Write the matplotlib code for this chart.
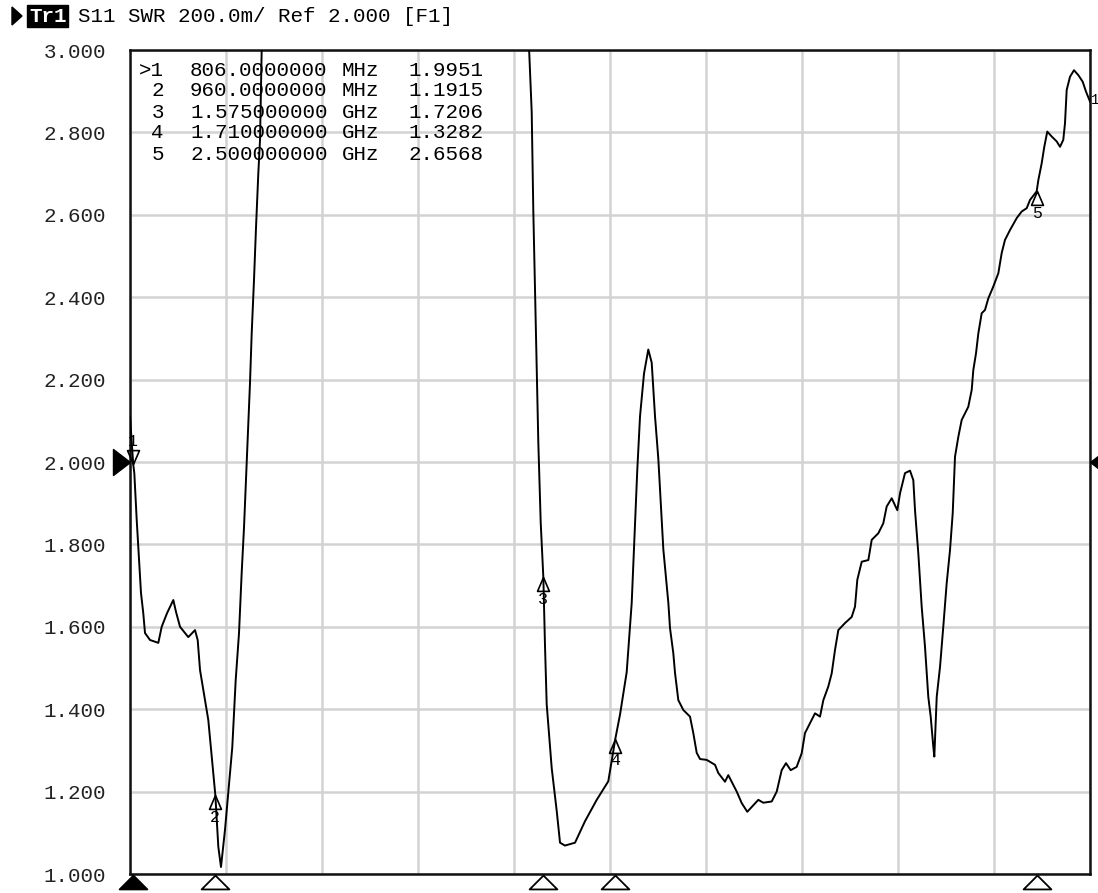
import matplotlib
matplotlib.use("Agg")
import matplotlib.pyplot as plt
from matplotlib.transforms import Affine2D, blended_transform_factory, ScaledTranslation
from matplotlib.patches import Polygon
import numpy as np

# ---------------- data ----------------
f_start, f_stop = 800.0, 2600.0          # MHz
swr_min, swr_max = 1.0, 3.0
ref_value = 2.0

freq_mhz = [
    800.0, 803.2, 806.0, 808.1, 812.6, 816.9, 820.6, 824.9, 828.1, 837.5,
    853.1, 859.4, 869.4, 881.2, 886.3, 893.8, 909.3, 921.9, 926.9, 931.3,
    940.6, 946.8, 954.3, 960.0, 965.6, 970.6, 978.1, 984.3, 991.8, 998.2,
    1004.4, 1009.4, 1013.8, 1016.9, 1020.7, 1025.0, 1028.2, 1032.5, 1036.3, 1040.6,
    1043.8, 1046.9, 1055.0, 1080.0, 1150.0, 1300.0, 1450.0, 1520.0, 1540.0, 1548.7,
    1553.2, 1556.2, 1559.4, 1562.6, 1565.6, 1570.1, 1575.0, 1578.1, 1581.3, 1590.7,
    1600.1, 1606.3, 1615.6, 1634.4, 1653.1, 1675.1, 1696.8, 1710.0, 1718.8, 1731.3,
    1740.7, 1746.9, 1751.2, 1756.3, 1763.8, 1771.8, 1778.2, 1784.4, 1790.6, 1800.0,
    1809.4, 1812.5, 1818.7, 1821.9, 1828.1, 1837.5, 1850.0, 1856.2, 1862.6, 1868.8,
    1881.3, 1896.9, 1903.1, 1915.6, 1921.8, 1928.2, 1937.6, 1947.0, 1957.4, 1968.7,
    1978.1, 1987.4, 2003.2, 2012.6, 2021.9, 2030.0, 2038.8, 2050.0, 2059.4, 2065.6,
    2075.0, 2084.4, 2093.8, 2100.0, 2109.3, 2115.7, 2121.9, 2128.1, 2140.6, 2153.2,
    2159.4, 2163.7, 2172.0, 2184.4, 2190.7, 2203.1, 2212.4, 2218.8, 2228.2, 2238.7,
    2243.8, 2253.1, 2262.5, 2268.7, 2271.9, 2278.1, 2284.4, 2290.6, 2296.8, 2301.3,
    2306.2, 2308.1, 2312.6, 2318.8, 2324.9, 2331.3, 2337.5, 2342.6, 2346.9, 2353.1,
    2359.4, 2371.8, 2378.2, 2381.2, 2386.3, 2390.6, 2396.9, 2403.1, 2409.3, 2418.7,
    2428.1, 2434.4, 2440.6, 2450.0, 2462.6, 2471.9, 2481.3, 2487.5, 2500.0, 2503.1,
    2509.4, 2514.3, 2519.9, 2528.2, 2537.6, 2543.8, 2549.9, 2553.1, 2556.3, 2562.5,
    2570.0, 2578.1, 2586.3, 2592.5, 2600.0,
]
swr = [
    2.11, 2.05, 1.9951, 1.973, 1.859, 1.762, 1.682, 1.633, 1.585, 1.568,
    1.561, 1.600, 1.633, 1.665, 1.636, 1.600, 1.575, 1.592, 1.568, 1.495,
    1.422, 1.374, 1.269, 1.1915, 1.066, 1.017, 1.107, 1.197, 1.308, 1.471,
    1.585, 1.731, 1.842, 1.939, 2.061, 2.192, 2.313, 2.442, 2.570, 2.701,
    2.782, 3.0, 3.3, 3.9, 4.6, 5.0, 4.4, 3.6, 3.2, 2.99,
    2.849, 2.61, 2.422, 2.241, 2.047, 1.852, 1.7206, 1.555, 1.412, 1.257,
    1.153, 1.076, 1.069, 1.076, 1.128, 1.18, 1.225, 1.3282, 1.387, 1.49,
    1.658, 1.852, 1.982, 2.111, 2.215, 2.273, 2.241, 2.111, 2.008, 1.788,
    1.658, 1.597, 1.536, 1.488, 1.422, 1.398, 1.382, 1.342, 1.294, 1.279,
    1.277, 1.265, 1.245, 1.224, 1.24, 1.224, 1.2, 1.172, 1.151, 1.167,
    1.18, 1.173, 1.176, 1.2, 1.252, 1.269, 1.252, 1.26, 1.293, 1.342,
    1.366, 1.39, 1.382, 1.422, 1.455, 1.487, 1.544, 1.592, 1.609, 1.624,
    1.649, 1.714, 1.758, 1.762, 1.811, 1.827, 1.851, 1.892, 1.912, 1.883,
    1.924, 1.973, 1.979, 1.956, 1.883, 1.778, 1.649, 1.552, 1.43, 1.382,
    1.309, 1.285, 1.43, 1.503, 1.6, 1.706, 1.786, 1.876, 2.013, 2.061,
    2.102, 2.134, 2.175, 2.223, 2.264, 2.312, 2.361, 2.369, 2.397, 2.426,
    2.458, 2.507, 2.539, 2.563, 2.592, 2.608, 2.616, 2.636, 2.6568, 2.684,
    2.725, 2.765, 2.802, 2.79, 2.778, 2.765, 2.782, 2.822, 2.903, 2.935,
    2.951, 2.939, 2.923, 2.899, 2.875,
]

marker_ids = ["1", "2", "3", "4", "5"]
marker_freq_mhz = [806.0, 960.0, 1575.0, 1710.0, 2500.0]
marker_swr = [1.9951, 1.1915, 1.7206, 1.3282, 2.6568]
marker_freq_text = ["806.0000000", "960.0000000", "1.575000000", "1.710000000", "2.500000000"]
marker_unit = ["MHz", "MHz", "GHz", "GHz", "GHz"]
marker_value_text = ["1.9951", "1.1915", "1.7206", "1.3282", "2.6568"]
active_marker = 0

ytick_values = [1.0, 1.2, 1.4, 1.6, 1.8, 2.0, 2.2, 2.4, 2.6, 2.8, 3.0]
ytick_labels = ["1.000", "1.200", "1.400", "1.600", "1.800", "2.000",
                "2.200", "2.400", "2.600", "2.800", "3.000"]
trace_tag = "Tr1"
trace_number = "1"
title_text = "S11 SWR 200.0m/ Ref 2.000 [F1]"

# ---------------- figure ----------------
W, H = 1098, 893
fig = plt.figure(figsize=(W / 100, H / 100), dpi=100)
px = Affine2D().scale(1, -1).translate(0, H)   # pixel coords, origin top-left
FONT = ["Liberation Mono", "DejaVu Sans Mono"]

L, R, T, B = 130, 1090, 50, 874
ax = fig.add_axes([L / W, 1 - B / H, (R - L) / W, (B - T) / H])
ax.plot(freq_mhz, swr, color="black", lw=1.4, zorder=3)
ax.set_xlim(f_start, f_stop)
ax.set_ylim(swr_min, swr_max)
ax.set_xticks(np.linspace(f_start, f_stop, 11))
ax.set_yticks(ytick_values)
ax.set_yticklabels(ytick_labels, fontfamily=FONT, fontsize=15, color="#222222")
ax.tick_params(axis="both", length=0, pad=17)
ax.tick_params(axis="x", labelbottom=False)
ax.grid(True, color="#d2d2d2", lw=1.8)
ax.set_axisbelow(True)
for s in ax.spines.values():
    s.set_linewidth(1.8)
    s.set_color("#111111")

# markers on trace
up_tri = [(0, 0), (-6, -14), (6, -14), (0, 0)]
down_tri = [(0, 0), (-6, 14), (6, 14), (0, 0)]
for i, (mf, ms_, mid) in enumerate(zip(marker_freq_mhz, marker_swr, marker_ids)):
    if i == active_marker:
        ax.plot([mf], [ms_], marker=down_tri, ms=20, mfc="none", mec="black",
                mew=1.2, ls="none", zorder=4, clip_on=False)
        ax.annotate(mid, (mf, ms_), xytext=(0, 23), textcoords="offset pixels",
                    ha="center", va="center", fontfamily=FONT, fontsize=12)
    else:
        ax.plot([mf], [ms_], marker=up_tri, ms=20, mfc="none", mec="black",
                mew=1.2, ls="none", zorder=4, clip_on=False)
        ax.annotate(mid, (mf, ms_), xytext=(0, -22), textcoords="offset pixels",
                    ha="center", va="center", fontfamily=FONT, fontsize=12)

# marker indicators below the axis
bottom_tri = [(0, 0.5), (-1, -0.5), (1, -0.5), (0, 0.5)]
btrans = blended_transform_factory(ax.transData, ax.transAxes) + \
    ScaledTranslation(0, -7.5 / 100, fig.dpi_scale_trans)
for i, mf in enumerate(marker_freq_mhz):
    fc = "black" if i == active_marker else "white"
    ax.plot([mf], [0], marker=bottom_tri, ms=20, mfc=fc, mec="black", mew=1.3,
            ls="none", transform=btrans, clip_on=False, zorder=5)

# reference level indicators
ref_l = [(0, 0), (-17, 13), (-17, -13), (0, 0)]
ref_r = [(0, 0), (17, 13), (17, -13), (0, 0)]
rtrans = blended_transform_factory(ax.transAxes, ax.transData)
ax.plot([0], [ref_value], marker=ref_l, ms=24.5, color="black", ls="none",
        transform=rtrans, clip_on=False, zorder=5)
ax.plot([1], [ref_value], marker=ref_r, ms=24.5, color="black", ls="none",
        transform=rtrans, clip_on=False, zorder=5)

# trace tag on the right edge
fig.text(1091, 100, trace_number, transform=px, ha="left", va="center",
         fontfamily=FONT, fontsize=10)

# marker table
row_y0, row_dy = 70, 21
for i in range(len(marker_ids)):
    y = row_y0 + i * row_dy
    tag = (">" if i == active_marker else "") + marker_ids[i]
    fig.text(164, y, tag, transform=px, ha="right", va="center",
             fontfamily=FONT, fontsize=15)
    fig.text(190, y, marker_freq_text[i], transform=px, ha="left", va="center",
             fontfamily=FONT, fontsize=15)
    fig.text(342, y, marker_unit[i], transform=px, ha="left", va="center",
             fontfamily=FONT, fontsize=15)
    fig.text(483, y, marker_value_text[i], transform=px, ha="right", va="center",
             fontfamily=FONT, fontsize=15)

# header line
fig.add_artist(Polygon([(12, 7), (22, 16), (12, 25)], closed=True,
                       transform=px, facecolor="black", edgecolor="black"))
fig.text(29, 16, trace_tag, transform=px, ha="left", va="center", color="white",
         fontfamily=FONT, fontsize=15, fontweight="bold",
         bbox=dict(boxstyle="square,pad=0.08", fc="black", ec="black"))
fig.text(78, 16, title_text, transform=px, ha="left", va="center",
         fontfamily=FONT, fontsize=15)

fig.savefig("out.png", dpi=100, facecolor="white")
